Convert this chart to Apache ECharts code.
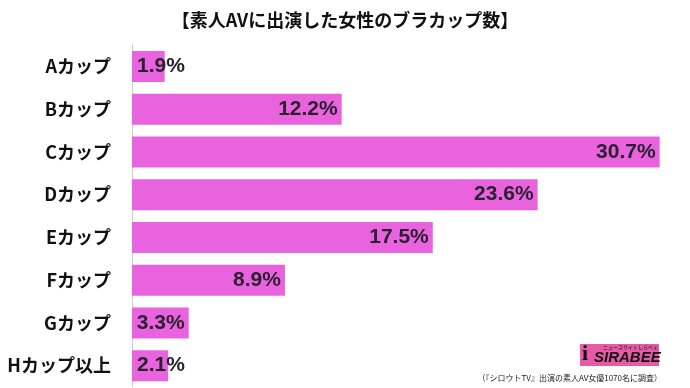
<!DOCTYPE html>
<html><head><meta charset="utf-8">
<script src="https://cdn.jsdelivr.net/npm/echarts@6/dist/echarts.min.js"></script>
<style>html,body{margin:0;padding:0;background:#fff}#c{width:690px;height:388px}</style>
</head><body><div id="c"></div>
<script>
const categories = ['Aカップ','Bカップ','Cカップ','Dカップ','Eカップ','Fカップ','Gカップ','Hカップ以上'];
const values = [1.9, 12.2, 30.7, 23.6, 17.5, 8.9, 3.3, 2.1];
const titleText = '【素人AVに出演した女性のブラカップ数】';
const sourceText = '（『シロウトTV』出演の素人AV女優1070名に調査）';

const chart = echarts.init(document.getElementById('c'));
const font = '"Noto Sans CJK JP", "Liberation Sans", sans-serif';
chart.setOption({
  animation: false,
  title: {text: titleText, left: 'center', top: 6,
    textStyle: {fontFamily: font, fontWeight: 'bold', fontSize: 18, color: '#111'}},
  grid: {left: 132, right: 8, top: 45, bottom: 1},
  xAxis: {type: 'value', min: 0, max: 32, show: false},
  yAxis: {type: 'category', data: categories, inverse: true,
    axisLine: {show: true, lineStyle: {color: '#cccccc', width: 1}},
    axisTick: {show: false},
    axisLabel: {fontFamily: font, fontWeight: 'bold', fontSize: 18, color: '#111', margin: 21}},
  series: [{
    type: 'bar', barWidth: 31,
    data: values.map(v => ({value: v, label: {position: v < 3 ? 'insideLeft' : 'insideRight', distance: v < 3 ? 5 : 4}})),
    itemStyle: {color: '#e963df'},
    label: {show: true, formatter: p => p.value.toFixed(1) + '%',
      fontFamily: '"Liberation Sans", Arial, sans-serif', fontWeight: 'bold', fontSize: 21, color: '#2a2030'}
  }],
  graphic: [
    {type: 'rect', left: 580, top: 344, shape: {width: 79, height: 22}, style: {fill: '#e65aa6'}},
    {type: 'text', left: 603, top: 345, style: {text: 'ニュースサイトしらべぇ', font: '5px "Noto Sans CJK JP"', fill: '#111'}},
    {type: 'text', left: 594, top: 350, style: {text: 'SIRABEE', font: 'italic bold 15px "Liberation Sans"', fill: '#111'}},
    {type: 'text', left: 582, top: 343, style: {text: 'i', font: 'bold 22px "Liberation Serif"', fill: '#111'}},
    {type: 'text', right: 28, top: 374, style: {text: sourceText, font: '8px "Noto Sans CJK JP"', fill: '#222'}}
  ]
});
</script></body></html>
